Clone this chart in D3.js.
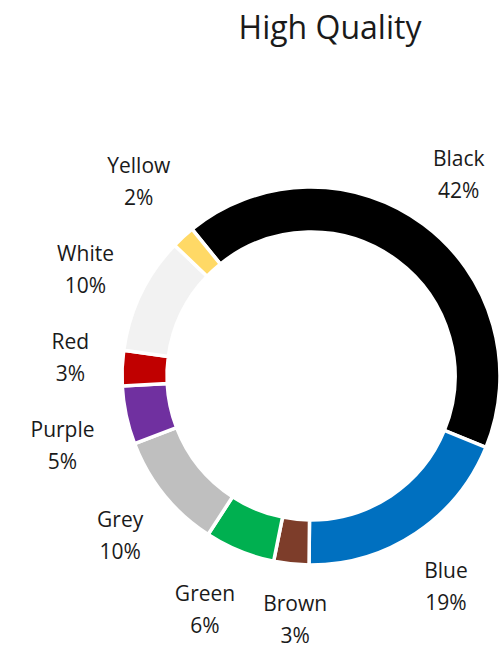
<!DOCTYPE html>
<html>
<head>
<meta charset="utf-8">
<script src="https://cdn.jsdelivr.net/npm/d3@7"></script>
<style>
  body { margin: 0; background: #fff; }
  text { font-family: "Open Sans", "Noto Sans", sans-serif; fill: #1a1a1a; }
</style>
</head>
<body>
<div id="chart"></div>
<script>
// data
var categories = ['Black', 'Blue', 'Brown', 'Green', 'Grey', 'Purple', 'Red', 'White', 'Yellow'];
var shares = [42, 19, 3, 6, 10, 5, 3, 10, 2];
var sliceColors = ['#000000', '#0070C0', '#7D3D2A', '#00B050', '#BFBFBF', '#7030A0', '#C00000', '#F2F2F2', '#FFD966'];
var chartTitle = 'High Quality';

var width = 504;
var height = 650;
var cx = 311, cy = 376;
var outerR = 189, innerR = 144;
var labelR = 222;
var startDeg = -39;
var gap = 28; // min space between label boxes

var svg = d3.select('#chart').append('svg')
    .attr('width', width)
    .attr('height', height);

// titel
svg.append('text')
    .attr('x', 330)
    .attr('y', 39)
    .attr('text-anchor', 'middle')
    .style('font-size', '32px')
    .text(chartTitle);

var color = d3.scaleOrdinal().domain(categories).range(sliceColors);

var pie = d3.pie()
    .sort(null)
    .value(d => d.value)
    .startAngle(startDeg * Math.PI / 180)
    .endAngle(startDeg * Math.PI / 180 + 2 * Math.PI);

var data = categories.map((c, i) => ({ name: c, value: shares[i] }));
var arcs = pie(data);

var arc = d3.arc().innerRadius(innerR).outerRadius(outerR);
var labelArc = d3.arc().innerRadius(labelR).outerRadius(labelR);

var g = svg.append('g')
    .attr('transform', 'translate(' + cx + ',' + cy + ')');

// slices
g.selectAll('path')
    .data(arcs)
    .enter().append('path')
    .attr('d', arc)
    .attr('fill', d => color(d.data.name))
    .attr('stroke', '#fff')
    .attr('stroke-width', 3.5);

// labels: name + percent
var labels = g.selectAll('.lbl')
    .data(arcs)
    .enter().append('g')
    .attr('class', 'lbl');

var txt = labels.append('text')
    .attr('text-anchor', 'middle')
    .style('font-size', '21px');
txt.append('tspan').attr('x', 0).attr('dy', 0).text(d => d.data.name);
txt.append('tspan').attr('x', 0).attr('dy', 32).text(d => d.data.value + '%');

// first guess: box pushed outward from the ring along the mid angle
var boxes = [];
labels.each(function (d) {
    var bb = this.getBBox();
    var a = (d.startAngle + d.endAngle) / 2;
    var p = labelArc.centroid(d);
    boxes.push({
        node: this, bb: bb, w: bb.width, h: bb.height,
        x: p[0] + Math.sin(a) * bb.width / 2,
        y: p[1] - Math.cos(a) * bb.height / 2
    });
});

// spread labels that sit too close
for (var it = 0; it < 60; it++) {
    for (var i = 0; i < boxes.length; i++) {
        for (var j = i + 1; j < boxes.length; j++) {
            var A = boxes[i], B = boxes[j];
            var px = (A.w + B.w) / 2 + gap - Math.abs(A.x - B.x);
            var py = (A.h + B.h) / 2 + gap - Math.abs(A.y - B.y);
            if (px > 0 && py > 0) {
                if (px < py) {
                    var sx = A.x < B.x ? -1 : 1;
                    A.x += sx * px / 2; B.x -= sx * px / 2;
                } else {
                    var sy = A.y < B.y ? -1 : 1;
                    A.y += sy * py / 2; B.y -= sy * py / 2;
                }
            }
        }
    }
}

boxes.forEach(function (b) {
    // keep inside the page
    b.x = Math.max(-cx + b.w / 2 + 2, Math.min(width - cx - b.w / 2 - 2, b.x));
    b.y = Math.max(-cy + b.h / 2 + 2, Math.min(height - cy - b.h / 2 - 1, b.y));
    var ox = b.x - (b.bb.x + b.w / 2);
    var oy = b.y - (b.bb.y + b.h / 2);
    d3.select(b.node).attr('transform', 'translate(' + ox + ',' + oy + ')');
});
</script>
</body>
</html>
